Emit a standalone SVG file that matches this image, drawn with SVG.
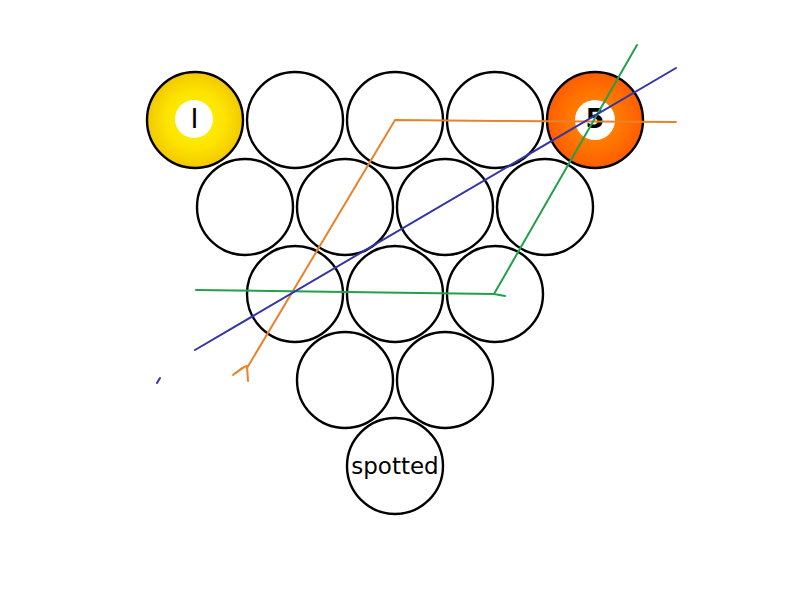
<svg xmlns="http://www.w3.org/2000/svg" width="789" height="600" viewBox="0 0 789 600">
<style>
.ball{fill:#fff;stroke:#000;stroke-width:2.4}
.spot{fill:#fff;stroke:none}
.num{font-family:"DejaVu Sans",sans-serif;font-weight:bold;font-size:27px;text-anchor:middle;fill:#000}
.lbl{font-family:"DejaVu Sans",sans-serif;font-size:23px;text-anchor:middle;fill:#000}
.c{fill:none;stroke-width:2;stroke-linecap:round;stroke-linejoin:round}
</style>
<defs>
<radialGradient id="gy" cx="0.5" cy="0.5" r="0.5">
<stop offset="0" stop-color="#fff200"/>
<stop offset="0.6" stop-color="#fde400"/>
<stop offset="1" stop-color="#f2c800"/>
</radialGradient>
<radialGradient id="go" cx="0.5" cy="0.5" r="0.5">
<stop offset="0" stop-color="#ff9000"/>
<stop offset="0.6" stop-color="#ff7400"/>
<stop offset="1" stop-color="#ff5c00"/>
</radialGradient>
</defs>
<rect width="789" height="600" fill="#fff"/>
<g id="ball1"><circle class="ball" cx="195" cy="120" r="48" style="fill:url(#gy)"/><circle class="spot" cx="194" cy="119" r="19"/><text class="num" x="194.5" y="128" style="font-weight:normal">I</text></g>
<g id="b1_2"><circle class="ball" cx="295" cy="120" r="48"/></g>
<g id="b1_3"><circle class="ball" cx="395" cy="120" r="48"/></g>
<g id="b1_4"><circle class="ball" cx="495" cy="120" r="48"/></g>
<g id="ball5"><circle class="ball" cx="595" cy="120" r="48" style="fill:url(#go)"/><circle class="spot" cx="595" cy="120" r="20"/><text class="num" x="595" y="128">5</text></g>
<g id="b2_1"><circle class="ball" cx="245" cy="207" r="48"/></g>
<g id="b2_2"><circle class="ball" cx="345" cy="207" r="48"/></g>
<g id="b2_3"><circle class="ball" cx="445" cy="207" r="48"/></g>
<g id="b2_4"><circle class="ball" cx="545" cy="207" r="48"/></g>
<g id="b3_1"><circle class="ball" cx="295" cy="294" r="48"/></g>
<g id="b3_2"><circle class="ball" cx="395" cy="294" r="48"/></g>
<g id="b3_3"><circle class="ball" cx="495" cy="294" r="48"/></g>
<g id="b4_1"><circle class="ball" cx="345" cy="380" r="48"/></g>
<g id="b4_2"><circle class="ball" cx="445" cy="380" r="48"/></g>
<g id="spotted"><circle class="ball" cx="395" cy="466" r="48"/><text class="lbl" x="395" y="474">spotted</text></g>
<g id="connectors">
<path class="c" stroke="#e8832a" d="M676,122 L500,121 L395,120 L247,368"/>
<path class="c" stroke="#e8832a" stroke-width="1.4" d="M247,366 L248,381 M246,366 L234,374 M244,367 L236,373 M242,368 L233,375"/>
<path class="c" stroke="#22a04a" d="M637,45 L494,294 L196,290 M494,294 L505,296"/>
<path class="c" stroke="#3535a5" d="M676,68 L195,350 M157,383 L160,378"/>
</g>
</svg>
